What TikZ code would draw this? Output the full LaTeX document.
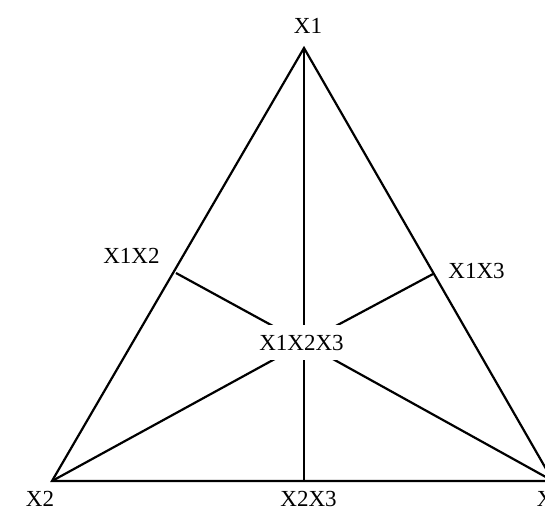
\documentclass[tikz,border=0pt]{standalone}
\usepackage{fontspec}
\setmainfont{Liberation Serif}
\begin{document}
\begin{tikzpicture}[x=1pt,y=-1pt,
  edge/.style={line width=2.2pt, line join=miter},
  lbl/.style={font=\fontsize{23}{27}\selectfont, inner sep=0pt}]
\clip (0,0) rectangle (545,506);
\coordinate (A) at (304,48);
\coordinate (B) at (52,481);
\coordinate (C) at (553,481);
\coordinate (AB) at (176,273);
\coordinate (AC) at (433,274);
\coordinate (BC) at (304,481);
\coordinate (O) at (304,343);
\draw[edge] (A) -- (B) -- (C) -- cycle;
\draw[edge] (A) -- (BC);
\draw[edge] (O) -- (AB);
\draw[edge] (O) -- (AC);
\draw[edge] (O) -- (B);
\draw[edge] (O) -- (C);
\node[lbl, fill=white, inner xsep=8pt, inner ysep=10pt] (M) at (301.5,342.5) {X1X2X3};
\node[lbl] (L1) at (308,26) {X1};
\node[lbl] (L2) at (40,499) {X2};
\node[lbl] (L3) at (551,499) {X3};
\node[lbl] (L12) at (131.5,256) {X1X2};
\node[lbl] (L13) at (476.5,271) {X1X3};
\node[lbl] (L23) at (308.5,499) {X2X3};
\end{tikzpicture}
\end{document}
